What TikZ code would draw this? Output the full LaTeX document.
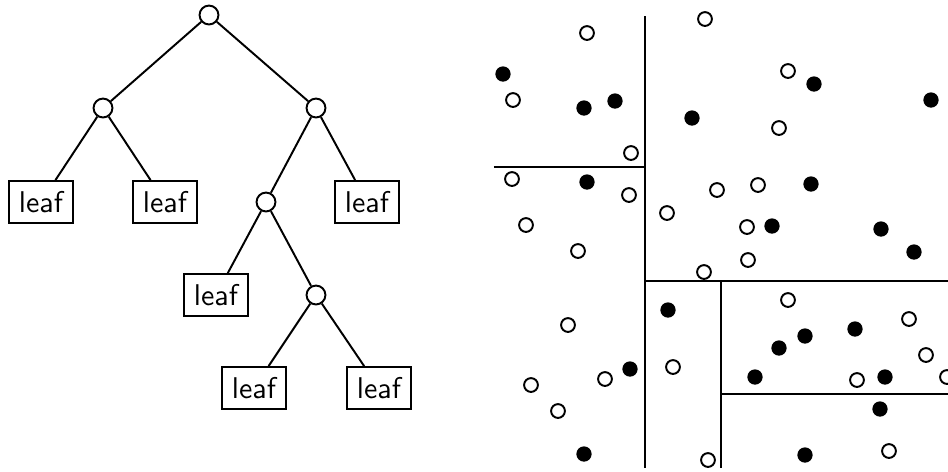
\documentclass[tikz,border=0pt]{standalone}
\begin{document}
\begin{tikzpicture}[x=0.3333pt,y=-0.3333pt]
\tikzstyle{split} = [shape=circle, draw=black, line width=0.65pt, minimum size=6.3pt, inner sep=0]
\tikzstyle{leafbox} = [shape=rectangle, draw=black, line width=0.65pt, font=\sffamily, inner sep=3.4pt]
\tikzstyle{edge} = [draw, line width=0.65pt]
\tikzstyle{cut} = [draw, line width=0.75pt]

\useasboundingbox (0,0) rectangle (948,471);

% tree
\node [split] (root) at (209,15) {};
\node [split] (l) at (103,108) {};
\node [split] (r) at (316,108) {};
\node [leafbox] (ll) at (41,202) {leaf};
\node [leafbox] (lr) at (165,202) {leaf};
\node [split] (rl) at (266,202) {};
\node [leafbox] (rr) at (367,202) {leaf};
\node [leafbox] (rll) at (216,295) {leaf};
\node [split] (rlr) at (316,295) {};
\node [leafbox] (rlrl) at (254,388) {leaf};
\node [leafbox] (rlrr) at (379,388) {leaf};

\draw [edge] (root) -- (l);
\draw [edge] (root) -- (r);
\draw [edge] (l) -- (ll);
\draw [edge] (l) -- (lr);
\draw [edge] (r) -- (rl);
\draw [edge] (r) -- (rr);
\draw [edge] (rl) -- (rll);
\draw [edge] (rl) -- (rlr);
\draw [edge] (rlr) -- (rlrl);
\draw [edge] (rlr) -- (rlrr);

% partition of the plane
\draw [cut] (645,16) -- (645,468);
\draw [cut] (494,167) -- (645,167);
\draw [cut] (645,281) -- (948,281);
\draw [cut] (721,281) -- (721,468);
\draw [cut] (721,394) -- (948,394);

% open points
\foreach \x/\y in {587/33,513/100,631/153,512/179,629/195,526/225,578/251,
	705/19,788/71,779/128,717/190,758/185,667/213,747/227,748/260,704/272,
	568/325,673/367,605/379,531/385,558/411,708/460,
	788/300,909/319,926/355,857/380,947/377,889/451}
	{
		\draw [line width=0.65pt] (\x,\y) circle (2.3pt);
	}
% filled points
\foreach \x/\y in {503/74,584/108,615/101,587/182,
	814/84,931/100,692/118,811/184,772/226,881/229,914/252,
	668/310,630/369,584/454,
	855/329,805/336,779/348,755/377,885/377,880/409,805/455}
	{
		\fill (\x,\y) circle (2.55pt);
	}
\end{tikzpicture}
\end{document}
